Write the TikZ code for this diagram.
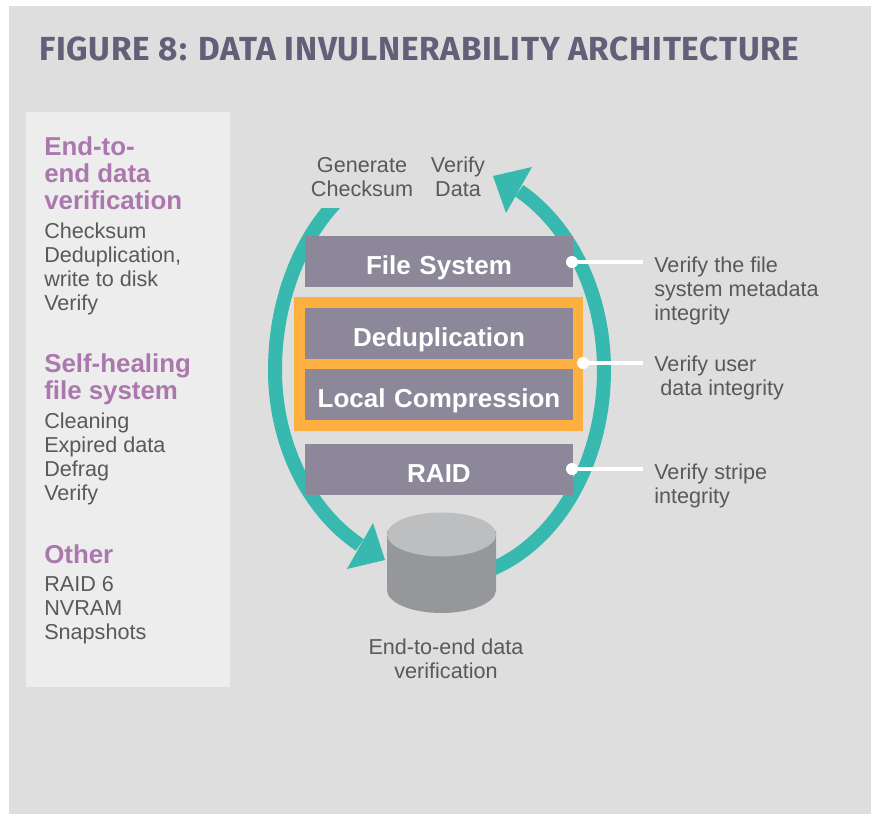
\documentclass[tikz,border=0pt]{standalone}
\usepackage{fontspec}
\setmainfont{Liberation Sans}
\newfontfamily\titlefont[LetterSpace=2.25]{Fira Sans}
\definecolor{panelbg}{HTML}{DEDEDE}
\definecolor{leftbg}{HTML}{EDEDED}
\definecolor{boxc}{HTML}{8C8899}
\definecolor{orangec}{HTML}{FDB040}
\definecolor{tealc}{HTML}{37B9B0}
\definecolor{txtc}{HTML}{58595B}
\definecolor{purplec}{HTML}{AB78AE}
\definecolor{titlec}{HTML}{635F78}
\definecolor{cyltop}{HTML}{BDBEC0}
\definecolor{cylbody}{HTML}{96979A}
\newcommand{\ts}{\rule{0pt}{12pt}}
\newcommand{\hs}{\rule{0pt}{15pt}}
\tikzset{
  bodytext/.style={inner sep=0pt,anchor=north west,align=left,text=txtc,font=\fontsize{16.2}{18}\selectfont},
  centertext/.style={inner sep=0pt,anchor=north,align=center,text=txtc,font=\fontsize{16.2}{18}\selectfont},
  headtext/.style={inner sep=0pt,anchor=north west,align=left,text=purplec,font=\fontsize{19.4}{20.25}\selectfont\bfseries},
  layerbox/.style={fill=boxc,draw=none,text width=201pt,align=center,text height=28.9pt,text depth=9.35pt,inner sep=0pt,text=white,font=\fontsize{19.5}{22}\selectfont\bfseries},
  dotc/.style={circle,fill=white,draw=none,minimum size=9pt,inner sep=0pt},
  leader/.style={draw=white,line width=3.6pt},
  ring/.style={draw=tealc,line width=10.5pt},
}
\begin{document}
\begin{tikzpicture}[x=0.75pt,y=-0.75pt]
\useasboundingbox (0,0) rectangle (871,814);
\fill[white] (0,0) rectangle (871,814);
\fill[panelbg] (9,6) rectangle (871,814);
\fill[leftbg] (26,112) rectangle (230,687);
\node[inner sep=0pt,anchor=base west,text=titlec,font=\fontsize{25}{28}\selectfont\titlefont\bfseries] (title) at (39,60) {FIGURE 8: DATA INVULNERABILITY ARCHITECTURE};
% left column
\node[headtext] (h1) at (44,135) {\hs End-to-\\end data\\verification};
\node[bodytext] (b1) at (44,222) {\ts Checksum\\Deduplication,\\write to disk\\Verify};
\node[headtext] (h2) at (44,352) {\hs Self-healing\\file system};
\node[bodytext] (b2) at (44,412) {\ts Cleaning\\Expired data\\Defrag\\Verify};
\node[headtext] (h3) at (44,543) {\hs Other};
\node[bodytext] (b3) at (44,575) {\ts RAID 6\\NVRAM\\Snapshots};
% ring
\begin{scope}
\clip (200,208) rectangle (700,700);
\draw[ring] (439.5,370) ++(128:164.5 and -216) arc[start angle=128,end angle=180,x radius=164.5,y radius=-216]
  arc[start angle=180,end angle=241,x radius=164.5,y radius=-200];
\end{scope}
\fill[tealc] (385,560) -- (373,523) -- (347,569) -- cycle;
\draw[ring] (439.5,370) ++(-75:164.5 and -210) arc[start angle=-75,end angle=0,x radius=164.5,y radius=-210]
  arc[start angle=0,end angle=61,x radius=164.5,y radius=-205];
\fill[tealc] (493,176) -- (532,167) -- (506,213) -- cycle;
% cylinder
\fill[cylbody] (387,531) -- (387,590) arc[start angle=180,end angle=360,x radius=54.5,y radius=-23] -- (496,531) -- cycle;
\fill[cyltop] (441.5,534.5) ellipse[x radius=54.5,y radius=22];
% layers
\node[fill=orangec,draw=none,minimum width=216.4pt,minimum height=100.5pt,inner sep=0pt] (frame) at (438.75,364) {};
\node[layerbox] (fs) at (439,261.5) {File System};
\node[layerbox] (dd) at (439,333.5) {Deduplication};
\node[layerbox] (lc) at (439,394.5) {Local Compression};
\node[layerbox] (raid) at (439,469.5) {RAID};
% leaders
\node[dotc] (d1) at (572,262) {};
\node[dotc] (d2) at (583,363) {};
\node[dotc] (d3) at (572,469) {};
\coordinate (e1) at (643,261.5);
\coordinate (e2) at (643,363);
\coordinate (e3) at (643,469.5);
\draw[leader] (d1) -- (d1-|e1);
\draw[leader] (d2) -- (d2-|e2);
\draw[leader] (d3) -- (d3-|e3);
% text
\node[centertext] (gen) at (362,156) {\ts Generate\\Checksum};
\node[centertext] (ver) at (458,156) {\ts Verify\\Data};
\node[bodytext] (r1) at (654,256) {\ts Verify the file\\system metadata\\integrity};
\node[bodytext] (r2) at (654,355) {\ts Verify user\\\hspace*{4.5pt}data integrity};
\node[bodytext] (r3) at (654,463) {\ts Verify stripe\\integrity};
\node[centertext] (bot) at (446,638) {\ts End-to-end data\\verification};
\end{tikzpicture}
\end{document}
